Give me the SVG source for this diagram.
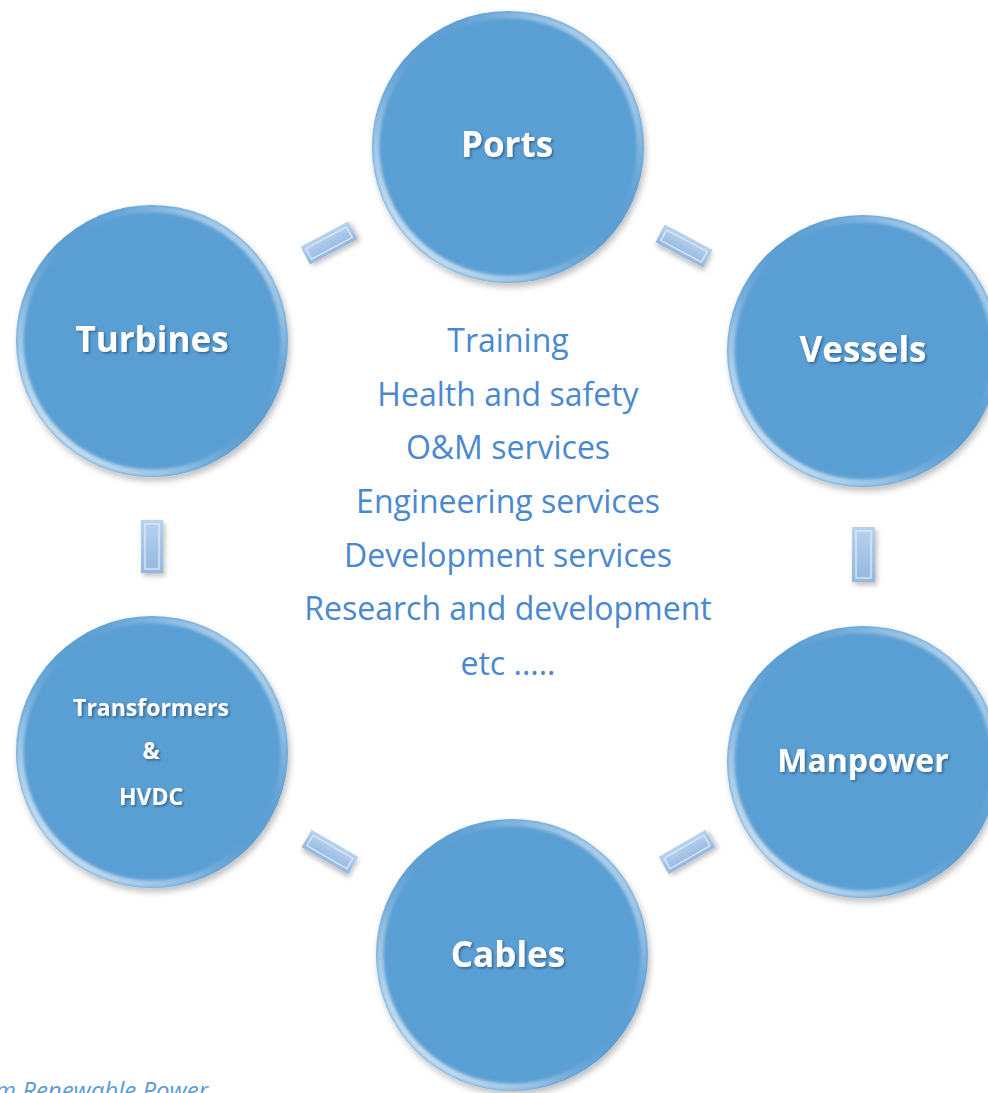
<svg xmlns="http://www.w3.org/2000/svg" width="988" height="1093" viewBox="0 0 988 1093">
  <style>
    .disc { fill: url(#discFill); filter: url(#discShadow); }
    .rim { fill: none; stroke: url(#rimGrad); stroke-width: 7; filter: url(#soft); }
    .label { font-family: "Open Sans", "Liberation Sans", sans-serif; font-weight: bold; fill: #ffffff; text-anchor: middle; filter: url(#txtShadow); }
    .center { font-family: "Open Sans", "Liberation Sans", sans-serif; fill: #4A88CF; text-anchor: middle; font-size: 32px; }
    .bar { fill: url(#barFill); filter: url(#barShadow); }
    .bevel { fill: none; stroke: #dbe9f7; stroke-width: 1.5; opacity: 0.9; }
    .foot { font-family: "Open Sans", "Liberation Sans", sans-serif; font-style: italic; fill: #5B9BD5; font-size: 24px; }
  </style>
  <defs>
    <radialGradient id="discFill" cx="0.5" cy="0.5" r="0.5">
      <stop offset="0" stop-color="#5A9FD4"/>
      <stop offset="0.9" stop-color="#5A9FD4"/>
      <stop offset="1" stop-color="#5B9ED2"/>
    </radialGradient>
    <linearGradient id="rimGrad" x1="0" y1="1" x2="1" y2="0">
      <stop offset="0" stop-color="#ffffff" stop-opacity="0.95"/>
      <stop offset="0.3" stop-color="#cfe4f6" stop-opacity="0.5"/>
      <stop offset="0.55" stop-color="#5A9FD4" stop-opacity="0"/>
      <stop offset="0.8" stop-color="#cfe4f6" stop-opacity="0.5"/>
      <stop offset="1" stop-color="#ffffff" stop-opacity="0.9"/>
    </linearGradient>
    <linearGradient id="barFill" x1="0" y1="0" x2="0" y2="1">
      <stop offset="0" stop-color="#b8d2ee"/>
      <stop offset="1" stop-color="#93b7df"/>
    </linearGradient>
    <filter id="discShadow" x="-20%" y="-20%" width="140%" height="140%">
      <feDropShadow dx="2" dy="4" stdDeviation="3" flood-color="#000000" flood-opacity="0.25"/>
    </filter>
    <filter id="soft" x="-10%" y="-10%" width="120%" height="120%">
      <feGaussianBlur stdDeviation="1.5"/>
    </filter>
    <filter id="txtShadow" x="-20%" y="-40%" width="140%" height="180%">
      <feDropShadow dx="1.5" dy="1.5" stdDeviation="1" flood-color="#1a3a5a" flood-opacity="0.6"/>
    </filter>
    <filter id="barShadow" x="-40%" y="-40%" width="180%" height="180%">
      <feDropShadow dx="2" dy="3" stdDeviation="2.5" flood-color="#000000" flood-opacity="0.25"/>
    </filter>
  </defs>

  <g id="connectors">
    <g transform="translate(329,243) rotate(-28)">
      <rect class="bar" x="-27" y="-10" width="54" height="20"/>
      <rect class="bevel" x="-23" y="-6" width="46" height="12"/>
    </g>
    <g transform="translate(684,246) rotate(28)">
      <rect class="bar" x="-27" y="-10" width="54" height="20"/>
      <rect class="bevel" x="-23" y="-6" width="46" height="12"/>
    </g>
    <g transform="translate(152,546)">
      <rect class="bar" x="-11" y="-26" width="22" height="53"/>
      <rect class="bevel" x="-7" y="-22" width="14" height="45"/>
    </g>
    <g transform="translate(863,554)">
      <rect class="bar" x="-11" y="-27" width="23" height="55"/>
      <rect class="bevel" x="-7" y="-23" width="15" height="47"/>
    </g>
    <g transform="translate(330,852) rotate(30)">
      <rect class="bar" x="-27" y="-10" width="54" height="20"/>
      <rect class="bevel" x="-23" y="-6" width="46" height="12"/>
    </g>
    <g transform="translate(687,852) rotate(-30)">
      <rect class="bar" x="-27" y="-10" width="54" height="20"/>
      <rect class="bevel" x="-23" y="-6" width="46" height="12"/>
    </g>
  </g>

  <g id="node-ports">
    <circle class="disc" cx="508" cy="147" r="136"/>
    <circle class="rim" cx="508" cy="147" r="132"/>
    <text class="label" x="507" y="157" font-size="35">Ports</text>
  </g>
  <g id="node-turbines">
    <circle class="disc" cx="152" cy="341" r="136"/>
    <circle class="rim" cx="152" cy="341" r="132"/>
    <text class="label" x="152" y="352" font-size="35">Turbines</text>
  </g>
  <g id="node-vessels">
    <circle class="disc" cx="863" cy="351" r="136"/>
    <circle class="rim" cx="863" cy="351" r="132"/>
    <text class="label" x="863" y="362" font-size="35">Vessels</text>
  </g>
  <g id="node-transformers">
    <circle class="disc" cx="152" cy="752" r="136"/>
    <circle class="rim" cx="152" cy="752" r="132"/>
    <text class="label" x="151" y="716" font-size="23">Transformers</text>
    <text class="label" x="151" y="759" font-size="23">&amp;</text>
    <text class="label" x="151" y="805" font-size="23">HVDC</text>
  </g>
  <g id="node-manpower">
    <circle class="disc" cx="863" cy="762" r="136"/>
    <circle class="rim" cx="863" cy="762" r="132"/>
    <text class="label" x="863" y="772" font-size="32">Manpower</text>
  </g>
  <g id="node-cables">
    <circle class="disc" cx="512" cy="955" r="136"/>
    <circle class="rim" cx="512" cy="955" r="132"/>
    <text class="label" x="508" y="967" font-size="35">Cables</text>
  </g>

  <g id="center-text">
    <text class="center" x="508" y="352">Training</text>
    <text class="center" x="508" y="406">Health and safety</text>
    <text class="center" x="508" y="459">O&amp;M services</text>
    <text class="center" x="508" y="513">Engineering services</text>
    <text class="center" x="508" y="567">Development services</text>
    <text class="center" x="508" y="620">Research and development</text>
    <text class="center" x="508" y="675">etc .....</text>
  </g>

  <text class="foot" x="-5" y="1099">m Renewable Power</text>
</svg>
